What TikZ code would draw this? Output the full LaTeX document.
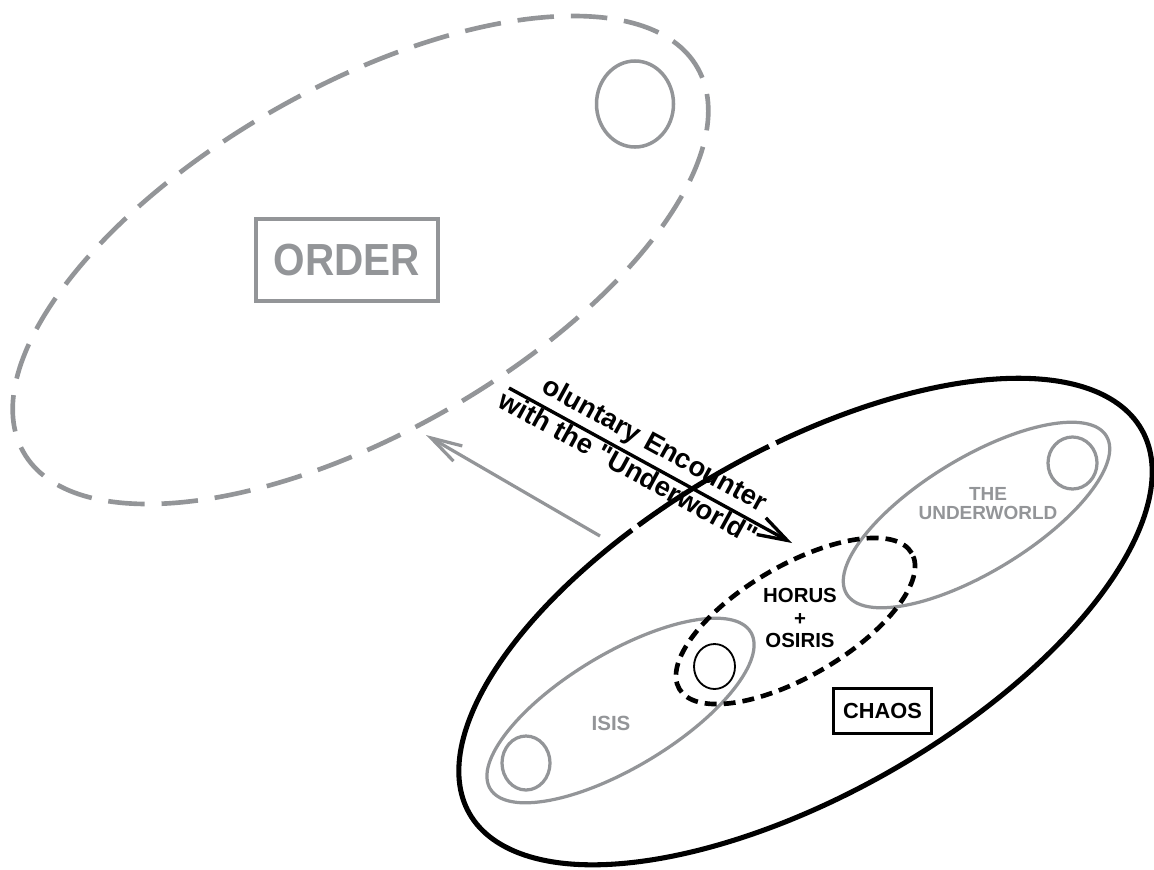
\documentclass[tikz,border=0pt]{standalone}
\usepackage{fontspec}
\setmainfont{Liberation Sans}
\newfontfamily\plainsans{Liberation Sans}
\usetikzlibrary{arrows.meta}
\definecolor{ggray}{RGB}{147,149,152}
\begin{document}
\begin{tikzpicture}[x=0.025cm,y=0.025cm,
  graydash/.style={draw=ggray, line width=3.3pt, dash pattern=on 26pt off 12pt},
  grayline/.style={draw=ggray, line width=2.3pt},
  blackline/.style={draw=black, line width=3.6pt},
  blackdash/.style={draw=black, line width=3.3pt, dash pattern=on 8.5pt off 5pt},
  thinblack/.style={draw=black, line width=1.3pt},
  graylabel/.style={text=ggray, font=\bfseries, align=center, inner sep=0pt},
  blacklabel/.style={text=black, font=\bfseries, align=center, inner sep=0pt},
  encarrow/.style={draw=black, line width=2.4pt, -{Straight Barb[length=21pt,width=13.5pt]}},
  backarrow/.style={draw=ggray, line width=2.3pt, -{Straight Barb[length=22pt,width=12.5pt]}},
  enctext/.style={text=black, font=\plainsans\fontsize{19.5}{21}\selectfont\bfseries, rotate=-28.7, anchor=base, inner sep=0pt}
]
\useasboundingbox (0,0) rectangle (1154,-869);

% ORDER ellipse (grey, dashed)
\draw[graydash, rotate around={29.7:(360.5,-260)}] (360.5,-260) ellipse [x radius=388, y radius=173];
\draw[draw=ggray, line width=2.5pt] (635,-104) ellipse [x radius=38.5, y radius=43];
\node[graylabel, draw=ggray, line width=2.8pt, minimum width=4.55cm, minimum height=2.05cm,
      font=\fontsize{32}{34}\selectfont\bfseries] (order) at (347,-260) {\scalebox{0.9}[1]{ORDER}};

% CHAOS ellipse (black, with two small breaks)
\begin{scope}[shift={(805.5,-621.5)}, rotate=29.75]
  \draw[blackline] (81.8:387 and 172) arc[start angle=81.8, end angle=104.6, x radius=387, y radius=172];
  \draw[blackline] (105.8:387 and 172) arc[start angle=105.8, end angle=440.6, x radius=387, y radius=172];
\end{scope}

% THE UNDERWORLD
\draw[grayline, rotate around={31.3:(976.5,-515)}] (976.5,-515) ellipse [x radius=152, y radius=57];
\draw[grayline] (1072.5,-463) ellipse [x radius=24.5, y radius=26];
\node[graylabel, font=\fontsize{13.5}{13.5}\selectfont\bfseries] (under) at (988,-504) {THE\\UNDERWORLD};

% ISIS
\draw[grayline, rotate around={31:(620.5,-710.5)}] (620.5,-710.5) ellipse [x radius=152, y radius=57];
\draw[grayline] (526,-763) ellipse [x radius=24, y radius=27];
\node[graylabel, font=\fontsize{14.6}{16}\selectfont\bfseries] (isis) at (611,-723) {ISIS};

% HORUS + OSIRIS
\draw[thinblack] (714.5,-666.5) ellipse [x radius=20.5, y radius=22.5];
\draw[blackdash, rotate around={30.3:(795.5,-621)}] (795.5,-621) ellipse [x radius=134.6, y radius=55.4];
\node[blacklabel, font=\fontsize{14.5}{16}\selectfont\bfseries] (horus) at (800,-618) {HORUS\\+\\OSIRIS};

% CHAOS label
\node[blacklabel, draw=black, line width=1.8pt, minimum width=2.46cm, minimum height=1.135cm,
      font=\fontsize{15.5}{17}\selectfont\bfseries] (chaos) at (882.5,-711) {CHAOS};

% arrows
\coordinate (encStart) at (509,-388);
\coordinate (encEnd) at (792,-543);
\draw[encarrow] (encStart) -- (encEnd);
\coordinate (backStart) at (600,-536);
\coordinate (backEnd) at (426,-435);
\draw[backarrow] (backStart) -- (backEnd);

\node[enctext] (enc1) at (650.7,-451.9) {oluntary Encounter};
\node[enctext] (enc2) at (623.8,-476.0) {with the "Underworld"};
\end{tikzpicture}
\end{document}
